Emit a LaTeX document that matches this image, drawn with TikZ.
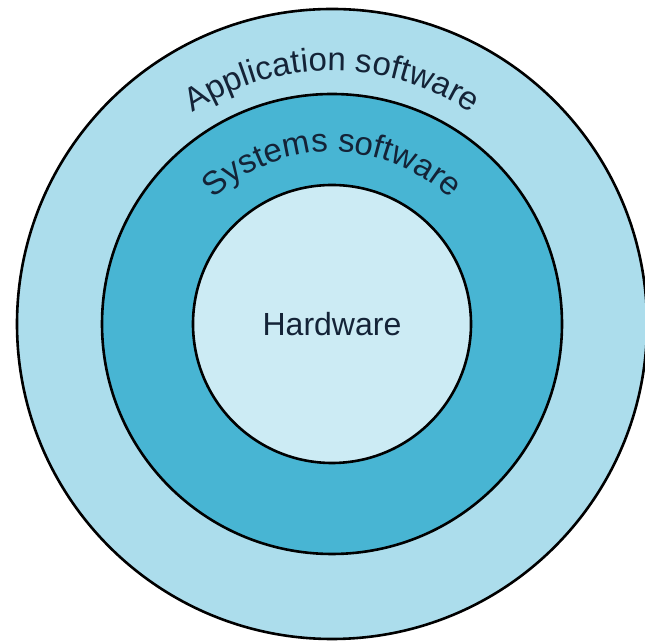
\documentclass[tikz,border=0pt]{standalone}
\usepackage{fontspec}
\setmainfont{Liberation Sans}
\usetikzlibrary{decorations.text}
\definecolor{appblue}{RGB}{172,221,236}
\definecolor{sysblue}{RGB}{72,181,211}
\definecolor{hwblue}{RGB}{204,235,244}
\definecolor{inkblue}{RGB}{20,35,55}

\begin{document}
\begin{tikzpicture}[x=1pt,y=1pt,
    ring/.style={circle, draw=black, line width=2.6pt, inner sep=0pt},
    ringtext/.style={decorate, decoration={text along path, text align=center, text color=inkblue}}]
  \useasboundingbox (0,0) rectangle (645,644);
  \coordinate (O) at (332,320);

  \node[ring, fill=appblue, minimum size=630] (app) at (O) {};
  \node[ring, fill=sysblue, minimum size=460] (sys) at (O) {};
  \node[ring, fill=hwblue, minimum size=278, text=inkblue,
    font=\fontsize{32}{36}\selectfont] (hw) at (O) {Hardware};

  \path[ringtext, decoration={text={|\fontsize{33}{36}\selectfont|Application software}}]
    ([shift={(165:253)}]O) arc[start angle=165, end angle=15, radius=253];
  \path[ringtext, decoration={text={|\fontsize{33}{36}\selectfont|Systems software}}]
    ([shift={(175:172)}]O) arc[start angle=175, end angle=5, radius=172];
\end{tikzpicture}
\end{document}
